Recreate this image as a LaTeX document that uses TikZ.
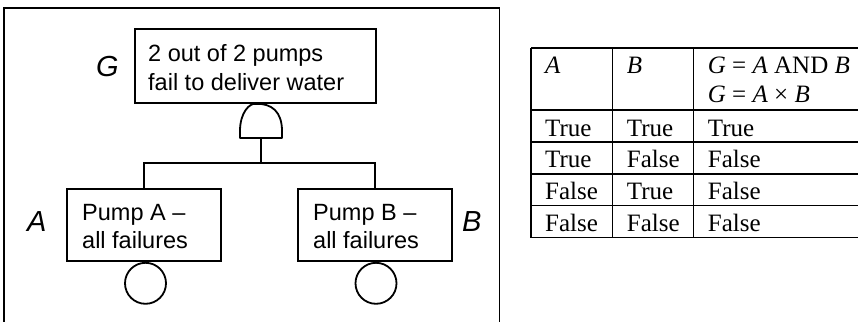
\documentclass[tikz,border=0pt]{standalone}
\usepackage{fontspec}
\setmainfont{Liberation Serif}
\newfontfamily\hv{Liberation Sans}
\begin{document}
\begin{tikzpicture}[x=1pt,y=-1pt,
  boxstyle/.style={draw,line width=1.8pt,rectangle,inner sep=0pt},
  txt/.style={anchor=base west,inner sep=0pt,font=\hv\fontsize{23.5}{28}\selectfont},
  lbl/.style={anchor=base west,inner sep=0pt,font=\hv\itshape\fontsize{29}{30}\selectfont},
  tab/.style={anchor=base west,inner sep=0pt,font=\fontsize{25}{29}\selectfont},
  wire/.style={line width=1.8pt},
  tline/.style={line width=1.2pt}]
\useasboundingbox (0,0) rectangle (858,321);
% frame
\draw[line width=1.8pt] (4,330) -- (4,8) -- (499.5,8) -- (499.5,330);
% boxes
\node[boxstyle,minimum width=240.7pt,minimum height=74pt] (G) at (255.3,66) {};
\node[boxstyle,minimum width=154pt,minimum height=72pt] (A) at (144,225) {};
\node[boxstyle,minimum width=154pt,minimum height=72pt] (B) at (375,225) {};
% texts
\node[txt] (g1) at (148,61.7) {2 out of 2 pumps};
\node[txt] (g2) at (148,90) {fail to deliver water};
\node[txt] (a1) at (82,220) {Pump A –};
\node[txt] (a2) at (82,248.3) {all failures};
\node[txt] (b1) at (313,220) {Pump B –};
\node[txt] (b2) at (313,248.3) {all failures};
\node[lbl] (gl) at (96,76.7) {G};
\node[lbl] (al) at (27,231.7) {A};
\node[lbl] (bl) at (462,231.7) {B};
% AND gate
\coordinate (gtop) at (G.south);
\coordinate (gbot) at (261,138);
\draw[wire,line join=round] (240,138) -- (240,131) .. controls (240,112) and (250,103) .. (gtop)
  .. controls (272,103) and (282,112) .. (282,131) -- (282,138) -- cycle;
\coordinate (junc) at (261,163);
\draw[wire] (gbot) -- (junc);
\draw[wire] (junc) -| (A.north);
\draw[wire] (junc) -| (B.north);
% basic events
\node[draw,circle,line width=1.8pt,minimum size=41pt,inner sep=0pt,anchor=north] (ca) at ([xshift=1.5pt]A.south) {};
\node[draw,circle,line width=1.8pt,minimum size=41pt,inner sep=0pt,anchor=north] (cb) at ([xshift=1pt]B.south) {};
% table
\foreach \yy in {48,110,142,174,205.7,237.7} \draw[tline] (531,\yy) -- (858,\yy);
\foreach \xx in {531,612.7,693.3} \draw[tline] (\xx,48) -- (\xx,237.7);
\node[tab] (h1) at (545,73.3) {\textit{A}};
\node[tab] (h2) at (626.7,73.3) {\textit{B}};
\node[tab] (h3) at (707.7,73.3) {\textit{G} = \textit{A} AND \textit{B}};
\node[tab] (h4) at (707.7,102.7) {\textit{G} = \textit{A} × \textit{B}};
\node[tab] (r11) at (545,136) {True};
\node[tab] (r12) at (626.7,136) {True};
\node[tab] (r13) at (707.7,136) {True};
\node[tab] (r21) at (545,167.3) {True};
\node[tab] (r22) at (626.7,167.3) {False};
\node[tab] (r23) at (707.7,167.3) {False};
\node[tab] (r31) at (545,199.3) {False};
\node[tab] (r32) at (626.7,199.3) {True};
\node[tab] (r33) at (707.7,199.3) {False};
\node[tab] (r41) at (545,231) {False};
\node[tab] (r42) at (626.7,231) {False};
\node[tab] (r43) at (707.7,231) {False};
\end{tikzpicture}
\end{document}
